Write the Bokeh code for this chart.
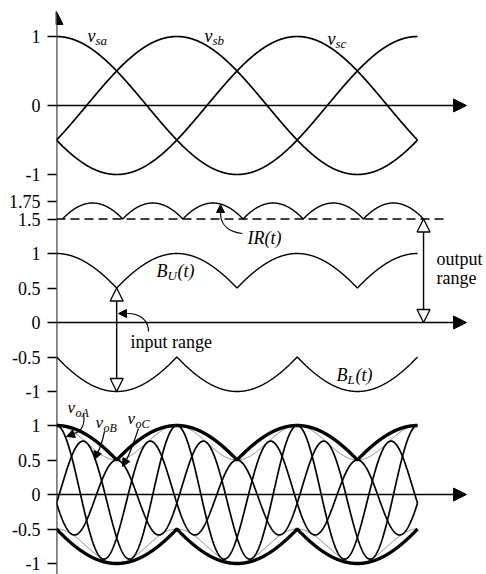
import numpy as np
from bokeh.plotting import figure
from bokeh.models import Range1d, FixedTicker, Arrow, NormalHead
from bokeh.core.properties import value
from bokeh.embed import file_html
from bokeh.resources import INLINE

# ---------------- data ----------------
source_phase_names = ["sa", "sb", "sc"]
source_phase_deg = [0.0, -120.0, 120.0]          # v_sa, v_sb, v_sc
source_amp = 1.0
theta_end = 2 * np.pi                            # one input period shown

output_phase_names = ["oA", "oB", "oC"]
output_phase_deg = [0.0, -120.0, 120.0]          # v_oA, v_oB, v_oC
output_freq_ratio = 4                            # output / input frequency
output_amp = 0.75
injection_amp = 0.25                             # common-mode 3rd harmonic
injection_harm = 3

ir_min_level = 1.5                               # dashed line level of IR(t)
ir_lag_deg = 6.0                                 # IR(t) trace drawn slightly lagged

top_ticks = [1, 0, -1]
mid_ticks = [1.75, 1.5, 1, 0.5, 0, -0.5, -1]
bot_ticks = [1, 0.5, 0, -0.5, -1]

# ---------------- layout helpers (figure pixels -> data) ----------------
W, H = 484, 574
X0, KX = 56.0, 57.46      # x of theta=0, px per rad
Y0, KY = 105.0, 69.0      # y of top-panel zero, px per unit
def X(xp): return (xp - X0) / KX
def Y(yp): return (Y0 - yp) / KY

OFF_TOP = 0.0
OFF_MID = Y(322)
OFF_BOT = Y(494)

FONT = value("Liberation Serif")

p = figure(width=W, height=H, output_backend="svg", toolbar_location=None,
           x_range=Range1d(0, (W - X0) / KX), y_range=Range1d(Y(H), Y(0)),
           x_axis_location=None, min_border_left=int(X0), min_border_right=0,
           min_border_top=0, min_border_bottom=0)
p.grid.visible = False
p.outline_line_color = None
p.background_fill_color = "white"
p.border_fill_color = "white"

# ---- y axis ticks with labels ----
ticks, overrides = [], {}
for off, tl in ((OFF_TOP, top_ticks), (OFF_MID, mid_ticks), (OFF_BOT, bot_ticks)):
    for t in tl:
        v = t + off
        ticks.append(v)
        overrides[v] = ("%g" % t)
ax = p.yaxis[0]
ax.ticker = FixedTicker(ticks=ticks)
ax.major_label_overrides = overrides
ax.axis_line_color = None
ax.major_tick_out = 9
ax.major_tick_in = 0
ax.minor_tick_out = 0
ax.minor_tick_in = 0
ax.major_tick_line_width = 1.3
ax.major_tick_line_color = "black"
ax.major_label_text_font = "Liberation Serif"
ax.major_label_text_font_size = "18px"
ax.major_label_text_color = "black"
ax.major_label_standoff = 7

# ---------------- curves ----------------
theta = np.linspace(0, theta_end, 1441)
src = np.array([source_amp * np.cos(theta + np.deg2rad(d)) for d in source_phase_deg])
B_U = src.max(axis=0)
B_L = src.min(axis=0)

# top panel: source voltages
for v in src:
    p.line(theta, v + OFF_TOP, line_width=1.7, line_color="black")

# middle panel
lag = np.deg2rad(ir_lag_deg)
theta_ir = theta + lag
IR = B_U - B_L
p.line(theta, B_U + OFF_MID, line_width=1.4, line_color="black")
p.line(theta, B_L + OFF_MID, line_width=1.4, line_color="black")
p.line(theta_ir, IR + OFF_MID, line_width=1.4, line_color="black")
p.line([0, X(443)], [ir_min_level + OFF_MID] * 2, line_width=1.4,
       line_color="black", line_dash="9 5")

# bottom panel
inj = injection_amp * np.cos(injection_harm * theta)
p.line(theta, output_amp + inj + OFF_BOT, line_width=1.0, line_color="#7a7a7a")
p.line(theta, -output_amp + inj + OFF_BOT, line_width=1.0, line_color="#7a7a7a")
for d in output_phase_deg:
    vo = output_amp * np.cos(output_freq_ratio * theta + np.deg2rad(d)) + inj
    p.line(theta, vo + OFF_BOT, line_width=1.7, line_color="black")
p.line(theta, B_U + OFF_BOT, line_width=3.4, line_color="black")
p.line(theta, B_L + OFF_BOT, line_width=3.4, line_color="black")

# ---------------- axes arrows ----------------
for off in (OFF_TOP, OFF_MID, OFF_BOT):
    p.add_layout(Arrow(end=NormalHead(size=13, fill_color="black", line_color="black"),
                       x_start=0, y_start=off, x_end=X(466), y_end=off,
                       line_width=1.6, line_color="black"))
p.add_layout(Arrow(end=NormalHead(size=13, fill_color="black", line_color="black"),
                   x_start=0, y_start=Y(H + 4), x_end=0, y_end=Y(11),
                   line_width=1.8, line_color="black"))

# input range double arrow (at the B_U notch)
first = theta < 2 * np.pi / 3
i_in = int(np.argmin(B_U[first]))
p.add_layout(Arrow(start=NormalHead(size=13, fill_color="white", line_color="black", line_width=1.3),
                   end=NormalHead(size=13, fill_color="white", line_color="black", line_width=1.3),
                   x_start=theta[i_in], y_start=B_U[i_in] + OFF_MID,
                   x_end=theta[i_in], y_end=B_L[i_in] + OFF_MID,
                   line_width=1.4, line_color="black"))
# output range double arrow (end of IR trace)
p.add_layout(Arrow(start=NormalHead(size=13, fill_color="white", line_color="black", line_width=1.3),
                   end=NormalHead(size=13, fill_color="white", line_color="black", line_width=1.3),
                   x_start=theta_ir[-1], y_start=ir_min_level + OFF_MID,
                   x_end=theta_ir[-1], y_end=0 + OFF_MID,
                   line_width=1.4, line_color="black"))

# ---------------- pointer arrows ----------------
def pointer(s, c0, c1, e, tip):
    p.bezier(x0=[X(s[0])], y0=[Y(s[1])], x1=[X(e[0])], y1=[Y(e[1])],
             cx0=[X(c0[0])], cy0=[Y(c0[1])], cx1=[X(c1[0])], cy1=[Y(c1[1])],
             line_width=1.2, line_color="black")
    p.add_layout(Arrow(end=NormalHead(size=8, fill_color="black", line_color="black"),
                       x_start=X(e[0]), y_start=Y(e[1]), x_end=X(tip[0]), y_end=Y(tip[1]),
                       line_width=1.2, line_color="black"))

pointer((242, 233), (226, 231), (220, 224), (220, 212), (220, 204))
pointer((148, 331), (148, 320), (140, 313), (127, 313), (118, 313))
pointer((83, 413), (85, 425), (80, 431), (74, 433), (66, 436))
pointer((104, 431), (102, 440), (100, 448), (97, 452), (94, 459))
pointer((138, 428), (134, 440), (130, 452), (126, 459), (122, 466))

# ---------------- labels ----------------
def txt(xp, yp, s, size, style="normal"):
    p.text(x=[X(xp)], y=[Y(yp)], text=[s], text_font=FONT, text_font_size=value(size),
           text_font_style=style, text_baseline="middle", text_align="left",
           text_color="black")

def sublabel(xp, yp, main, sub, dx, size=18, subsize=13, tail=None, tail_dx=0):
    txt(xp, yp, main, "%dpx" % size, "italic")
    txt(xp + dx, yp + 5, sub, "%dpx" % subsize, "italic")
    if tail:
        txt(xp + tail_dx, yp, tail, "%dpx" % size, "italic")

sublabel(87, 35, "v", source_phase_names[0], 8)
sublabel(204, 35, "v", source_phase_names[1], 8)
sublabel(327, 38, "v", source_phase_names[2], 8)

sublabel(156, 270, "B", "U", 11, tail="(t)", tail_dx=21)
sublabel(336, 374, "B", "L", 11, tail="(t)", tail_dx=19)
txt(247, 237, "IR(t)", "18px", "italic")
txt(130, 341, "input range", "18px")
txt(436, 258, "output", "18px")
txt(436, 277, "range", "18px")

sublabel(67, 407, "v", output_phase_names[0], 8, size=17, subsize=12)
sublabel(95, 422, "v", output_phase_names[1], 8, size=17, subsize=12)
sublabel(127, 418, "v", output_phase_names[2], 8, size=17, subsize=12)

open("out.html", "w").write(file_html(p, INLINE))
